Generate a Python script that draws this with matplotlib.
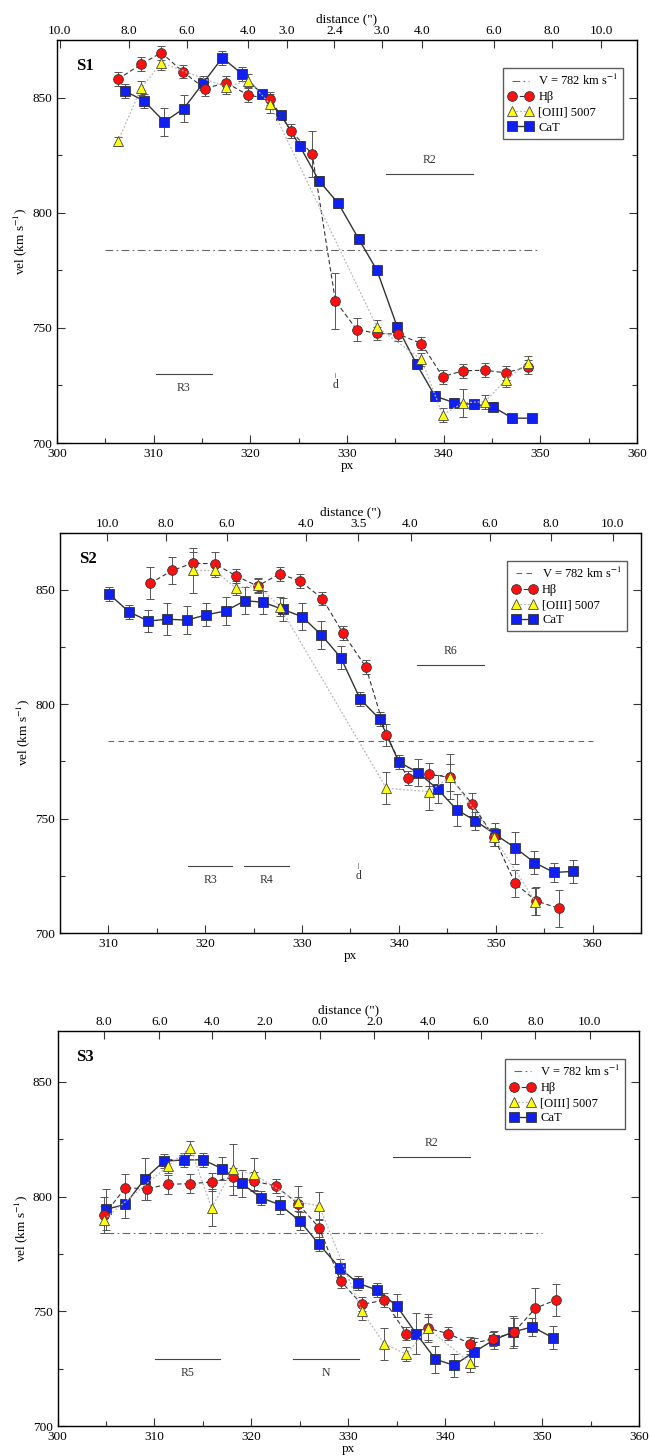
import matplotlib
matplotlib.use("Agg")
import matplotlib.pyplot as plt
from matplotlib.ticker import MultipleLocator

plt.rcParams['font.family'] = ['Liberation Serif', 'DejaVu Serif']
plt.rcParams['mathtext.fontset'] = 'stix'

# ---------------- Panel S1 ----------------
s1_hb_px = [306.3, 308.7, 310.8, 313.0, 315.3, 317.5, 319.8, 322.0, 324.2, 326.4,
            328.8, 331.0, 333.1, 335.3, 337.7, 339.9, 342.0, 344.3, 346.4, 348.7]
s1_hb_v = [858.0, 864.5, 869.5, 861.3, 853.9, 856.5, 851.0, 849.6, 835.6, 825.5,
           761.7, 749.3, 747.6, 747.3, 743.2, 728.8, 731.4, 731.6, 730.5, 733.1]
s1_hb_e = [3, 3, 3, 3, 3, 3, 3, 3, 3, 10, 12, 5, 3, 3, 3, 3, 3, 3, 3, 3]

s1_o3_px = [306.3, 308.7, 310.8, 317.5, 319.8, 322.0, 333.1, 337.7, 339.9, 342.0,
            344.3, 346.4, 348.7]
s1_o3_v = [831.0, 854.0, 865.2, 854.6, 857.4, 847.4, 750.4, 736.3, 712.2, 717.5,
           718.0, 727.4, 734.8]
s1_o3_e = [2, 3, 3, 3, 3, 4, 3, 3, 3, 6, 3, 3, 3]

s1_ca_px = [307.0, 309.0, 311.1, 313.1, 315.1, 317.1, 319.1, 321.2, 323.2, 325.1,
            327.1, 329.1, 331.2, 333.1, 335.2, 337.2, 339.1, 341.1, 343.1, 345.1,
            347.1, 349.1]
s1_ca_v = [852.9, 848.6, 839.5, 845.2, 856.2, 867.3, 860.4, 851.5, 842.4, 829.1,
           813.9, 804.1, 788.7, 775.0, 750.4, 734.3, 720.4, 717.5, 716.8, 715.8,
           710.8, 710.8]
s1_ca_e = [3, 3, 6, 6, 3, 3, 3, 2, 2, 2, 2, 2, 2, 2, 2, 2, 2, 2, 2, 2, 2, 2]

s1_top_pos = [300.3, 307.4, 313.4, 319.8, 323.8, 328.7, 333.6, 337.8, 345.2, 351.2, 356.3]
s1_top_lab = ["10.0", "8.0", "6.0", "4.0", "3.0", "2.4", "3.0", "4.0", "6.0", "8.0", "10.0"]

# ---------------- Panel S2 ----------------
s2_hb_px = [314.3, 316.6, 318.7, 321.0, 323.2, 325.4, 327.7, 329.8, 332.1, 334.2,
            336.6, 338.7, 340.9, 343.1, 345.3, 347.6, 349.8, 352.0, 354.2, 356.5]
s2_hb_v = [852.9, 858.5, 861.7, 861.4, 856.1, 851.7, 857.0, 853.9, 846.2, 831.3,
           816.2, 786.6, 767.7, 769.4, 768.0, 756.3, 742.1, 721.7, 714.0, 710.8]
s2_hb_e = [7, 6, 5, 5, 3, 3, 3, 3, 3, 3, 3, 5, 3, 5, 6, 5, 4, 6, 6, 8]

s2_o3_px = [318.7, 321.0, 323.2, 325.4, 327.7, 338.7, 343.1, 345.3, 349.8, 354.1]
s2_o3_v = [858.5, 858.5, 850.7, 852.2, 842.7, 763.3, 761.8, 768.4, 742.0, 713.7]
s2_o3_e = [10, 3, 3, 3, 4, 7, 8, 10, 4, 6]

s2_ca_px = [310.1, 312.1, 314.1, 316.1, 318.1, 320.1, 322.1, 324.1, 326.0, 328.0,
            330.0, 332.0, 334.0, 336.0, 338.0, 340.0, 342.0, 344.0, 346.0, 347.9,
            349.9, 352.0, 354.0, 356.0, 358.0]
s2_ca_v = [848.1, 840.5, 836.4, 837.2, 836.8, 839.1, 840.8, 845.3, 844.6, 841.5,
           838.3, 830.3, 820.4, 802.3, 793.6, 774.7, 770.1, 762.9, 753.8, 749.1,
           743.2, 737.3, 730.8, 726.5, 726.9]
s2_ca_e = [3, 3, 5, 7, 6, 5, 6, 6, 5, 5, 6, 6, 5, 3, 3, 3, 6, 6, 7, 4, 5, 7, 5, 4, 5]

s2_top_pos = [309.9, 315.9, 322.2, 330.4, 335.8, 341.2, 349.4, 355.7, 362.1]
s2_top_lab = ["10.0", "8.0", "6.0", "4.0", "3.5", "4.0", "6.0", "8.0", "10.0"]

# ---------------- Panel S3 ----------------
s3_hb_px = [304.8, 307.0, 309.2, 311.4, 313.7, 315.9, 318.1, 320.3, 322.5, 324.8,
            327.0, 329.2, 331.4, 333.7, 336.0, 338.2, 340.3, 342.6, 344.9, 347.1,
            349.3, 351.4]
s3_hb_v = [792.0, 803.8, 803.4, 805.3, 805.6, 806.3, 808.5, 806.7, 804.6, 796.9,
           786.4, 763.3, 753.1, 754.9, 740.4, 742.7, 740.4, 736.0, 738.0, 741.0,
           751.4, 755.0]
s3_hb_e = [8, 6, 5, 4, 4, 4, 4, 4, 3, 3, 4, 3, 3, 3, 3, 5, 3, 3, 3, 6, 9, 7]

s3_o3_px = [304.8, 311.4, 313.7, 315.9, 318.1, 320.3, 324.8, 327.0, 331.4, 333.7,
            336.0, 338.2, 342.6]
s3_o3_v = [790.0, 813.3, 821.2, 795.1, 811.8, 809.6, 797.7, 795.9, 750.2, 736.0,
           731.4, 742.7, 727.7]
s3_o3_e = [6, 3, 3, 8, 11, 7, 7, 6, 4, 7, 3, 6, 4]

s3_ca_px = [305.0, 307.0, 309.0, 311.0, 313.0, 315.0, 317.0, 319.0, 321.0, 323.0,
            325.0, 327.0, 329.1, 331.0, 333.0, 335.0, 337.0, 339.0, 340.9, 343.0,
            345.0, 347.0, 349.0, 351.1]
s3_ca_v = [794.4, 796.6, 807.7, 815.4, 815.9, 816.0, 812.1, 805.7, 799.5, 796.3,
           789.3, 779.2, 769.0, 762.3, 759.3, 752.4, 740.4, 729.2, 726.6, 732.4,
           737.6, 741.1, 743.3, 738.6]
s3_ca_e = [9, 6, 9, 3, 3, 3, 5, 6, 3, 4, 4, 3, 4, 3, 3, 5, 9, 6, 5, 6, 4, 7, 4, 5]

s3_top_pos = [304.8, 310.5, 315.9, 321.4, 327.1, 332.7, 338.2, 343.7, 349.3, 354.9]
s3_top_lab = ["8.0", "6.0", "4.0", "2.0", "0.0", "2.0", "4.0", "6.0", "8.0", "10.0"]

# systemic velocity line
v_sys_value = 784.0
v_sys_label = "V = 782 km s$^{-1}$"

panels = [
    dict(name="S1", rect=[0.0877, 0.6957, 0.8923, 0.2768], xlim=(300, 360), ylim=(700, 875),
         hb=(s1_hb_px, s1_hb_v, s1_hb_e), o3=(s1_o3_px, s1_o3_v, s1_o3_e),
         ca=(s1_ca_px, s1_ca_v, s1_ca_e), top=(s1_top_pos, s1_top_lab),
         vrange=(305, 350), vls=(0, (7, 3, 1.5, 3)),
         regions=[("R2", 334.0, 343.0, 817, "above"), ("R3", 310.2, 316.0, 730, "below")],
         marks=[("d", 328.8, 725)], xticks=[300, 310, 320, 330, 340, 350, 360]),
    dict(name="S2", rect=[0.0923, 0.3592, 0.8938, 0.2749], xlim=(305, 365), ylim=(700, 875),
         hb=(s2_hb_px, s2_hb_v, s2_hb_e), o3=(s2_o3_px, s2_o3_v, s2_o3_e),
         ca=(s2_ca_px, s2_ca_v, s2_ca_e), top=(s2_top_pos, s2_top_lab),
         vrange=(310, 360), vls=(0, (5, 4)),
         regions=[("R6", 341.9, 348.8, 817, "above"), ("R3", 318.2, 322.8, 729.5, "below"),
                  ("R4", 324.0, 328.7, 729.5, "below")],
         marks=[("d", 335.8, 725)], xticks=[310, 320, 330, 340, 350, 360]),
    dict(name="S3", rect=[0.0885, 0.0203, 0.8946, 0.2716], xlim=(300, 360), ylim=(700, 872),
         hb=(s3_hb_px, s3_hb_v, s3_hb_e), o3=(s3_o3_px, s3_o3_v, s3_o3_e),
         ca=(s3_ca_px, s3_ca_v, s3_ca_e), top=(s3_top_pos, s3_top_lab),
         vrange=(305, 350), vls=(0, (7, 3, 1.5, 3)),
         regions=[("R2", 334.6, 342.6, 817, "above"), ("R5", 310.1, 316.8, 729.5, "below"),
                  ("N", 324.3, 331.1, 729.5, "below")],
         marks=[], xticks=[300, 310, 320, 330, 340, 350, 360]),
]

fig = plt.figure(figsize=(6.5, 14.56), dpi=100)

ecol = '#555555'
for p in panels:
    ax = fig.add_axes(p["rect"])
    ax.set_xlim(*p["xlim"])
    ax.set_ylim(*p["ylim"])
    # systemic line
    ax.plot(list(p["vrange"]), [v_sys_value, v_sys_value], color='#666666', lw=0.8,
            linestyle=p["vls"], label=v_sys_label, zorder=1)
    # Hbeta
    x, y, e = p["hb"]
    ax.errorbar(x, y, yerr=e, fmt='none', ecolor=ecol, elinewidth=0.7, capsize=3,
                capthick=0.7, zorder=2)
    ax.plot(x, y, color='#333333', lw=0.8, linestyle=(0, (4, 2.5)), marker='o',
            markersize=7, markerfacecolor='#ff1010', markeredgecolor='#333333',
            markeredgewidth=0.6, label="H\u03b2", zorder=4)
    # [OIII]
    x, y, e = p["o3"]
    ax.errorbar(x, y, yerr=e, fmt='none', ecolor=ecol, elinewidth=0.7, capsize=3,
                capthick=0.7, zorder=2)
    ax.plot(x, y, color='#b8b8b8', lw=0.9, linestyle=(0, (1.5, 1.5)), marker='^',
            markersize=6.5, markerfacecolor='#ffff10', markeredgecolor='#444444',
            markeredgewidth=0.6, label="[OIII] 5007", zorder=5)
    # CaT
    x, y, e = p["ca"]
    ax.errorbar(x, y, yerr=e, fmt='none', ecolor=ecol, elinewidth=0.7, capsize=3,
                capthick=0.7, zorder=2)
    ax.plot(x, y, color='#333333', lw=1.0, linestyle='-', marker='s',
            markersize=6.5, markerfacecolor='#1020ee', markeredgecolor='#333333',
            markeredgewidth=0.6, label="CaT", zorder=3)

    # region bars
    for lab, x0, x1, yv, pos in p["regions"]:
        ax.plot([x0, x1], [yv, yv], color='#444444', lw=0.8, zorder=1)
        ty = yv + 3.5 if pos == "above" else yv - 3.5
        ax.text((x0 + x1) / 2, ty, lab, ha='center',
                va='bottom' if pos == "above" else 'top', fontsize=8.5, color='#333333')
    for lab, xv, yv in p["marks"]:
        ax.text(xv, yv, lab, ha='center', va='center', fontsize=8.5, color='#333333')
        ax.plot([xv, xv], [yv + 3.5, yv + 5.5], color='#888888', lw=0.6)

    # ticks
    ax.set_xticks(p["xticks"])
    ax.xaxis.set_minor_locator(MultipleLocator(5))
    ax.set_yticks([700, 750, 800, 850])
    ax.yaxis.set_minor_locator(MultipleLocator(25))
    ax.tick_params(axis='both', which='both', direction='in', labelsize=9.5,
                   color='#333333')
    ax.tick_params(axis='both', which='major', length=6, width=0.8)
    ax.tick_params(axis='both', which='minor', length=3.5, width=0.8)
    ax.tick_params(axis='y', which='both', right=True)
    ax.tick_params(axis='x', which='both', top=False)
    ax.set_xlabel("px", fontsize=9.5, labelpad=0)
    ax.set_ylabel("vel (km s$^{-1}$)", fontsize=9.5, labelpad=2)
    for sp in ax.spines.values():
        sp.set_linewidth(1.0)
        sp.set_color('#333333')

    ax.text(0.032, 0.955, p["name"], transform=ax.transAxes, fontsize=12,
            fontweight='bold', ha='left', va='top')

    leg = ax.legend(loc='upper right', bbox_to_anchor=(0.976, 0.93), fontsize=9,
                    frameon=True, fancybox=False, edgecolor='#333333', numpoints=2,
                    handlelength=2.0, handletextpad=0.4, borderpad=0.4,
                    labelspacing=0.25, borderaxespad=0.0)
    leg.get_frame().set_linewidth(1.0)

    # top distance axis
    axt = ax.twiny()
    axt.set_xlim(*p["xlim"])
    tpos, tlab = p["top"]
    axt.set_xticks(tpos)
    axt.set_xticklabels(tlab)
    axt.tick_params(axis='x', direction='in', length=6, width=0.8, labelsize=9.5,
                    pad=2, color='#333333')
    axt.set_xlabel('distance (")', fontsize=9.5, labelpad=2)

fig.savefig("out.png", dpi=100)
